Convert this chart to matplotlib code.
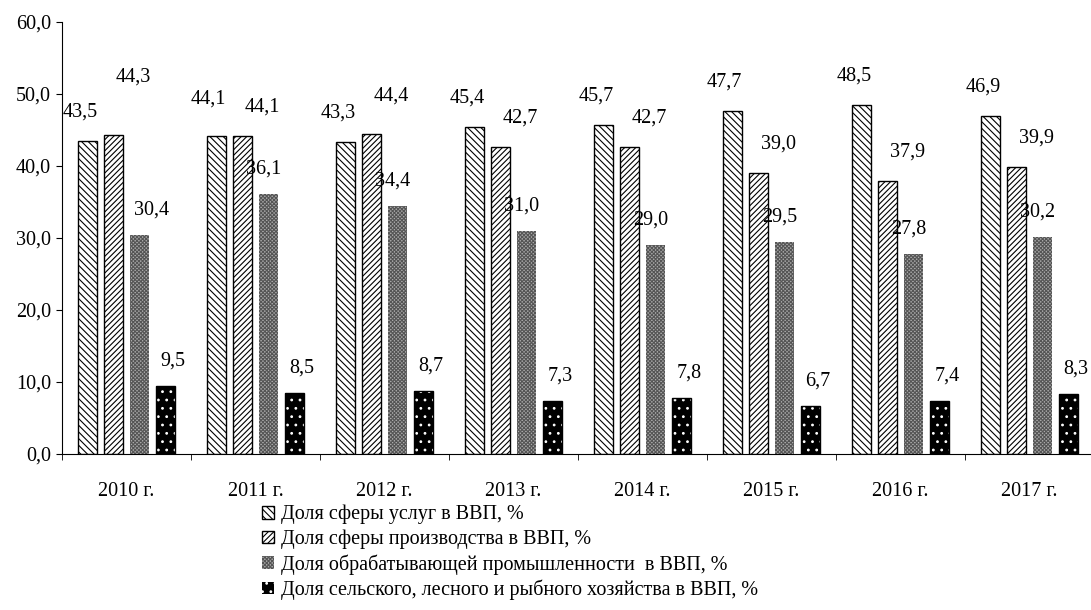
import numpy as np
import matplotlib.pyplot as plt
from matplotlib.patches import Patch

years = ['2010 г.', '2011 г.', '2012 г.', '2013 г.', '2014 г.', '2015 г.', '2016 г.', '2017 г.']
services = [43.5, 44.1, 43.3, 45.4, 45.7, 47.7, 48.5, 46.9]
production = [44.3, 44.1, 44.4, 42.7, 42.7, 39.0, 37.9, 39.9]
manufacturing = [30.4, 36.1, 34.4, 31.0, 29.0, 29.5, 27.8, 30.2]
agriculture = [9.5, 8.5, 8.7, 7.3, 7.8, 6.7, 7.4, 8.3]

series_names = ['Доля сферы услуг в ВВП, %',
                'Доля сферы производства в ВВП, %',
                'Доля обрабатывающей промышленности  в ВВП, %',
                'Доля сельского, лесного и рыбного хозяйства в ВВП, %']

plt.rcParams['font.family'] = ['Liberation Serif', 'DejaVu Serif']
plt.rcParams['font.size'] = 14.5
plt.rcParams['hatch.linewidth'] = 0.8

W, H = 1091, 610
fig = plt.figure(figsize=(W / 100, H / 100), dpi=100)
ax = fig.add_axes([62 / W, 1 - 454 / H, (1094 - 62) / W, (454 - 22) / H])

x = np.arange(len(years))
width = 0.148
offs = [-0.3, -0.1, 0.1, 0.3]

ax.bar(x + offs[0], services, width, facecolor='white', edgecolor='black', hatch='\\\\\\\\\\', linewidth=1)
ax.bar(x + offs[1], production, width, facecolor='white', edgecolor='black', hatch='//////', linewidth=1)
ax.bar(x + offs[2], manufacturing, width, facecolor='#ababab', edgecolor='#555555', hatch='xxxxxxxxx', linewidth=0)
ax.bar(x + offs[3], agriculture, width, facecolor='black', edgecolor='white', hatch='..', linewidth=0)
ax.bar(x + offs[3], agriculture, width, fill=False, edgecolor='black', linewidth=1)

# value labels: pixel offsets (dx, dy) per series, with a few manual tweaks
base = [(-8, 29), (20, 29), (-5, 25), (8, 25)]
extra = {(0, 1): (0, 29), (1, 0): (0, 8), (2, 1): (0, 9), (0, 2): (17, 0)}
all_vals = [services, production, manufacturing, agriculture]
for s, vals in enumerate(all_vals):
    for i, v in enumerate(vals):
        dx, dy = base[s]
        ex = extra.get((i, s), (0, 0))
        ax.annotate(f'{v:.1f}'.replace('.', ','), (x[i] + offs[s], v),
                    xytext=((dx + ex[0]) * 0.72, (dy + ex[1]) * 0.72), textcoords='offset points',
                    ha='center', va='center')

ax.set_xlim(-0.5, 7.5)
ax.set_ylim(0, 60)
ax.set_yticks(np.arange(0, 61, 10))
ax.set_yticklabels([f'{t:.1f}'.replace('.', ',') for t in np.arange(0, 61, 10)])
ax.set_xticks(x)
ax.set_xticklabels(years)
ax.set_xticks(np.arange(-0.5, 8, 1), minor=True)
ax.tick_params(axis='x', which='major', length=0, pad=20)
ax.tick_params(axis='x', which='minor', length=4, direction='out')
ax.tick_params(axis='y', length=4, direction='out', pad=4)
ax.spines['top'].set_visible(False)
ax.spines['right'].set_visible(False)

handles = [Patch(facecolor='white', edgecolor='black', hatch='\\\\\\\\\\'),
           Patch(facecolor='white', edgecolor='black', hatch='//////'),
           Patch(facecolor='#ababab', edgecolor='#555555', hatch='xxxxxxxxx', linewidth=0),
           Patch(facecolor='black', edgecolor='white', hatch='..', linewidth=0)]
fig.legend(handles, series_names, loc='upper left', bbox_to_anchor=(262 / W, 1 - 505 / H),
           frameon=False, handlelength=0.6, handleheight=0.6, handletextpad=0.35,
           labelspacing=0.25, borderpad=0, borderaxespad=0)

fig.savefig('out.png', dpi=100)
